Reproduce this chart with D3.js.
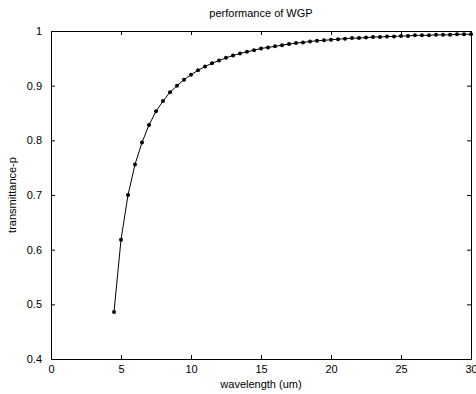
<!DOCTYPE html>
<html>
<head>
<meta charset="utf-8">
<script src="https://cdn.jsdelivr.net/npm/d3@7"></script>
<style>
  body { margin: 0; background: #fff; }
  text { font-family: "Liberation Sans", Arial, sans-serif; fill: #000; }
</style>
</head>
<body>
<svg id="chart" width="476" height="394"></svg>
<script>
// wavelength (um), step 0.5 from 4.5 to 30
var wavelength = [4.5, 5, 5.5, 6, 6.5, 7, 7.5, 8, 8.5, 9, 9.5, 10, 10.5, 11, 11.5, 12, 12.5, 13, 13.5, 14,
    14.5, 15, 15.5, 16, 16.5, 17, 17.5, 18, 18.5, 19, 19.5, 20, 20.5, 21, 21.5, 22, 22.5, 23, 23.5, 24,
    24.5, 25, 25.5, 26, 26.5, 27, 27.5, 28, 28.5, 29, 29.5, 30];
var transmittance = [0.486, 0.618, 0.700, 0.756, 0.796, 0.828, 0.853, 0.872, 0.888, 0.900, 0.911, 0.920,
    0.928, 0.935, 0.941, 0.946, 0.951, 0.955, 0.959, 0.962, 0.965, 0.968, 0.970, 0.972, 0.974, 0.976,
    0.978, 0.979, 0.981, 0.982, 0.983, 0.984, 0.985, 0.986, 0.987, 0.987, 0.988, 0.989, 0.989, 0.990,
    0.990, 0.991, 0.991, 0.992, 0.992, 0.992, 0.993, 0.993, 0.993, 0.994, 0.994, 0.994];
var xTicks = [0, 5, 10, 15, 20, 25, 30];
var yTicks = [0.4, 0.5, 0.6, 0.7, 0.8, 0.9, 1];

var svg = d3.select("#chart"),
    margin = { top: 31, right: 5, bottom: 35, left: 51 },
    width = +svg.attr("width") - margin.left - margin.right,
    height = +svg.attr("height") - margin.top - margin.bottom,
    g = svg.append("g").attr("transform", "translate(" + margin.left + "," + margin.top + ")");

var x = d3.scaleLinear().domain([0, 30]).range([0, width]);
var y = d3.scaleLinear().domain([0.4, 1]).range([height, 0]);

var data = wavelength.map(function (d, i) { return { w: d, t: transmittance[i] }; });

// box axes, ticks pointing inwards like matlab
function styleAxis(sel) {
    sel.select(".domain").attr("stroke", "#000").attr("stroke-width", 1);
    sel.selectAll(".tick line").attr("stroke", "#000");
    sel.selectAll("text").attr("font-size", 11).attr("fill", "#000");
}

g.append("g")
    .attr("transform", "translate(0," + height + ")")
    .call(d3.axisBottom(x).tickValues(xTicks).tickSizeInner(-4).tickSizeOuter(0).tickPadding(6).tickFormat(d3.format("d")))
    .call(styleAxis)
    .attr("font-family", null);

g.append("g")
    .call(d3.axisTop(x).tickValues(xTicks).tickSizeInner(-4).tickSizeOuter(0).tickFormat(""))
    .call(styleAxis);

g.append("g")
    .call(d3.axisLeft(y).tickValues(yTicks).tickSizeInner(-4).tickSizeOuter(0).tickPadding(9).tickFormat(d3.format("")))
    .call(styleAxis)
    .attr("font-family", null);

g.append("g")
    .attr("transform", "translate(" + width + ",0)")
    .call(d3.axisRight(y).tickValues(yTicks).tickSizeInner(-4).tickSizeOuter(0).tickFormat(""))
    .call(styleAxis);

var line = d3.line()
    .x(function (d) { return x(d.w); })
    .y(function (d) { return y(d.t); });

g.append("path")
    .datum(data)
    .attr("fill", "none")
    .attr("stroke", "#000")
    .attr("stroke-width", 1)
    .attr("d", line);

g.append("g")
    .selectAll("circle")
    .data(data)
    .enter().append("circle")
    .attr("cx", function (d) { return x(d.w); })
    .attr("cy", function (d) { return y(d.t); })
    .attr("r", 2)
    .attr("fill", "#000");

// title and labels
svg.append("text")
    .attr("x", margin.left + width / 2)
    .attr("y", 17)
    .attr("text-anchor", "middle")
    .attr("font-size", 11)
    .text("performance of WGP");

svg.append("text")
    .attr("x", margin.left + width / 2)
    .attr("y", 388)
    .attr("text-anchor", "middle")
    .attr("font-size", 11)
    .text("wavelength (um)");

svg.append("text")
    .attr("transform", "translate(16," + (margin.top + height / 2) + ") rotate(-90)")
    .attr("text-anchor", "middle")
    .attr("font-size", 11)
    .text("transmittance-p");
</script>
</body>
</html>
